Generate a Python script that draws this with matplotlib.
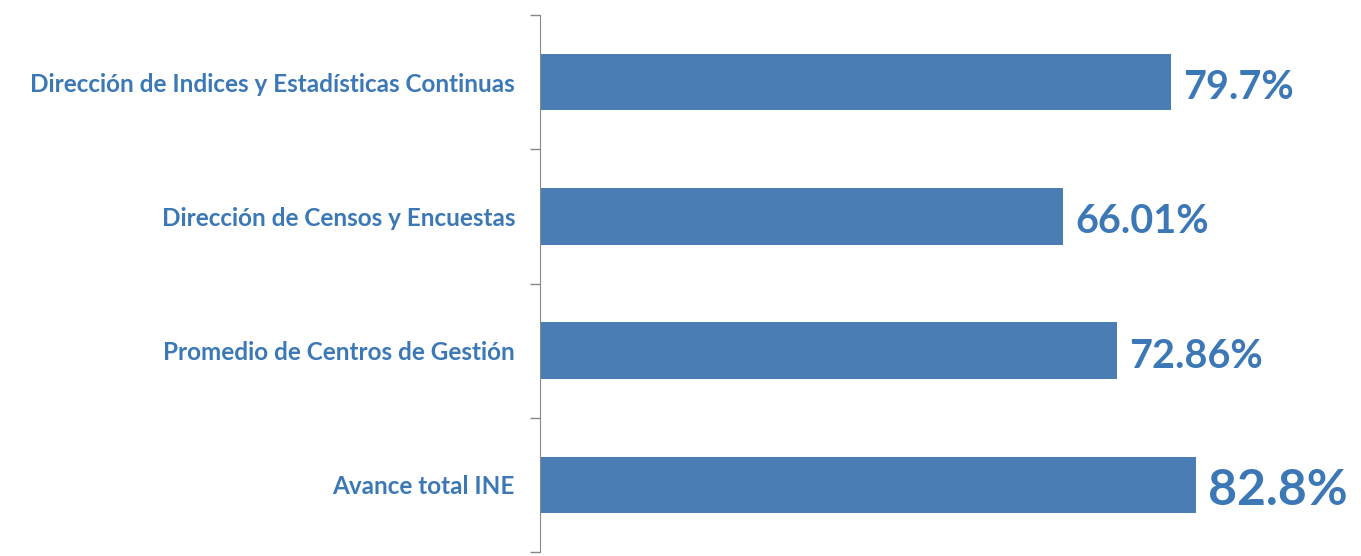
import matplotlib.pyplot as plt

# categories top to bottom and their progress values (%)
categorias = ["Dirección de Indices y Estadísticas Continuas",
              "Dirección de Censos y Encuestas",
              "Promedio de Centros de Gestión",
              "Avance total INE"]
valores = [79.7, 66.01, 72.86, 82.8]
etiquetas = ["79.7%", "66.01%", "72.86%", "82.8%"]
tam_etiqueta = [28.5, 28.5, 28.5, 36]

color_barra = "#4a7db4"
color_texto = "#3b78b5"

fig = plt.figure(figsize=(13.61, 5.56), dpi=100)
ax = fig.add_axes([540 / 1361, 4 / 556, 821 / 1361, 537 / 556])

pos = list(range(len(categorias)))
ax.barh(pos, valores, height=0.42, color=color_barra)

for p, v, t, s in zip(pos, valores, etiquetas, tam_etiqueta):
    ax.annotate(t, (v, p), xytext=(9, -4), textcoords="offset points",
                ha="left", va="center", fontsize=s, fontweight="bold",
                family="Lato", color=color_texto)

ax.set_xlim(0, 103.7)
ax.set_ylim(3.5, -0.5)

ax.set_yticks(pos)
ax.set_yticklabels(categorias, fontsize=17.5, fontweight="bold", family="Lato",
                   color=color_texto)
ax.tick_params(axis="y", which="major", length=0, pad=18)
ax.set_yticks([-0.5, 0.5, 1.5, 2.5, 3.5], minor=True)
ax.tick_params(axis="y", which="minor", length=7, color="#888888", width=1)
ax.set_xticks([])

for s in ["top", "right", "bottom"]:
    ax.spines[s].set_visible(False)
ax.spines["left"].set_color("#888888")

fig.savefig("out.png", dpi=100)
